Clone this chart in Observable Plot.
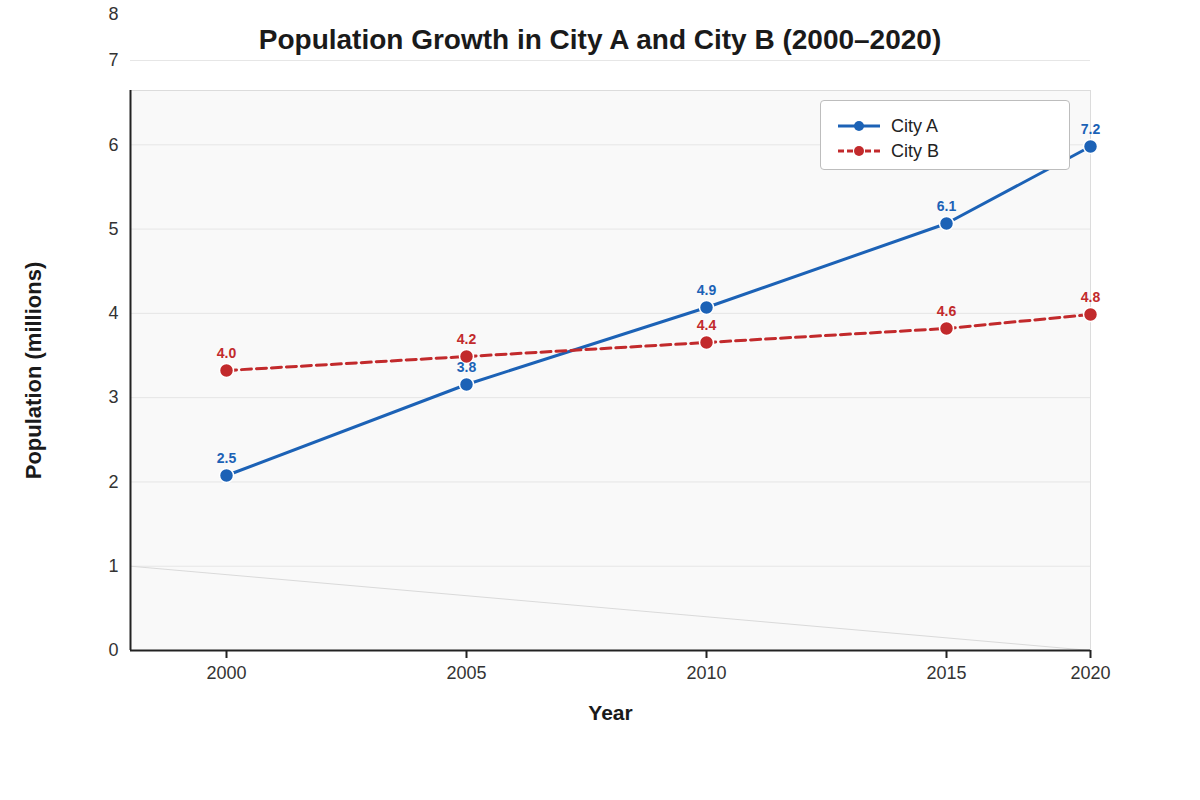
<!DOCTYPE html>
<html><head><meta charset="utf-8">
<script src="https://cdn.jsdelivr.net/npm/d3@7"></script>
<script src="https://cdn.jsdelivr.net/npm/@observablehq/plot@0.6"></script>
<style>
body{margin:0;background:#fff;font-family:"Liberation Sans",Arial,sans-serif;}
#wrap{position:relative;width:1200px;height:800px;overflow:hidden;}
#wrap svg{position:absolute;left:0;top:0;font-family:"Liberation Sans",Arial,sans-serif;}
#title{position:absolute;left:0;width:1200px;top:26px;text-align:center;font-size:28px;line-height:28px;font-weight:bold;color:#1a1a1a;}
#legend{position:absolute;left:820px;top:100px;width:248px;height:68px;border:1px solid #bdbdbd;border-radius:4px;background:#fff;}
.item{position:absolute;left:16px;height:20px;display:flex;align-items:center;font-size:18px;color:#222;}
.item svg{position:static !important;margin-right:10px;}
</style></head><body><div id="wrap"></div>
<script>
const years = [2000, 2005, 2010, 2015, 2020];
const cityA = [2.5, 3.8, 4.9, 6.1, 7.2];
const cityB = [4.0, 4.2, 4.4, 4.6, 4.8];
const seriesNames = ["City A", "City B"];
const seriesColors = ["#1c62b6", "#c22a2c"];
const seriesDash = [null, "10,5"];
const yTickLabels = [0, 1, 2, 3, 4, 5, 6, 7];
const yTopLabel = 8;
const xDomain = [1998, 2018];
const dataYDomain = [0, 8];
const axisYDomain = [0, 7];
const guideX = [1998, 2020];
const guideY = [1, 0];
const titleText = "Population Growth in City A and City B (2000–2020)";
const xLabel = "Year";
const yLabel = "Population (millions)";

const seriesValues = [cityA, cityB];
const rows = seriesNames.flatMap((name, s) =>
  years.map((year, i) => ({series: name, year, value: seriesValues[s][i]})));
const guide = guideX.map((x, i) => ({x, y: guideY[i]}));

const wrap = document.getElementById("wrap");
const base = {
  width: 1200, height: 800,
  marginLeft: 130, marginRight: 110, marginTop: 90, marginBottom: 150,
  style: {background: "transparent", overflow: "visible"}
};

// layer 1: plot background
const bg = Plot.plot({
  ...base,
  x: {domain: xDomain, clamp: true, axis: null},
  y: {domain: dataYDomain, axis: null},
  marks: [Plot.frame({fill: "#f9f9f9", stroke: "#dcdcdc"})]
});
wrap.appendChild(bg);

// layer 2: gridlines and y tick labels
const grid = Plot.plot({
  ...base,
  x: {domain: xDomain, clamp: true, axis: null},
  y: {domain: axisYDomain, range: [650, 60], axis: null},
  marks: [
    Plot.ruleY(yTickLabels.slice(1), {stroke: "#e6e6e6", strokeWidth: 1}),
    Plot.line(guide, {x: "x", y: "y", stroke: "#dadada", strokeWidth: 1}),
    Plot.text(yTickLabels, {x: xDomain[0], y: d => d, text: d => String(d), textAnchor: "end", dx: -12, fontSize: 18, fill: "#333"}),
    Plot.text([yTopLabel], {x: xDomain[0], y: d => d, text: d => String(d), textAnchor: "end", dx: -12, dy: 38, fontSize: 18, fill: "#333"})
  ]
});
wrap.appendChild(grid);

// layer 3: axes and data
const main = Plot.plot({
  ...base,
  x: {domain: xDomain, clamp: true},
  y: {domain: dataYDomain, axis: null},
  color: {domain: seriesNames, range: seriesColors},
  marks: [
    Plot.axisX({ticks: years, tickFormat: d => String(d), tickSize: 8, tickPadding: 8, fontSize: 18, stroke: "#222", strokeWidth: 2, color: "#333", label: null}),
    Plot.ruleY([dataYDomain[0]], {stroke: "#222", strokeWidth: 2}),
    Plot.ruleX([xDomain[0]], {stroke: "#222", strokeWidth: 2}),
    ...seriesNames.map((name, s) =>
      Plot.line(rows.filter(d => d.series === name), {x: "year", y: "value", stroke: seriesColors[s], strokeWidth: 3, strokeDasharray: seriesDash[s]})),
    Plot.dot(rows, {x: "year", y: "value", fill: "series", stroke: "#fff", strokeWidth: 1.5, r: 7}),
    Plot.text(rows, {x: "year", y: "value", text: d => d.value.toFixed(1), fill: "series", dy: -17, fontSize: 14, fontWeight: "bold"}),
    Plot.text([xLabel], {frameAnchor: "bottom", textAnchor: "middle", lineAnchor: "middle", dy: 63, fontSize: 21, fontWeight: "bold", fill: "#1a1a1a"}),
    Plot.text([yLabel], {frameAnchor: "left", textAnchor: "middle", lineAnchor: "middle", dx: -97, rotate: -90, fontSize: 22, fontWeight: "bold", fill: "#1a1a1a"})
  ]
});
wrap.appendChild(main);

const title = document.createElement("div");
title.id = "title";
title.textContent = titleText;
wrap.appendChild(title);

const legend = document.createElement("div");
legend.id = "legend";
seriesNames.forEach((name, s) => {
  const item = document.createElement("div");
  item.className = "item";
  item.style.top = (15 + s * 25) + "px";
  item.innerHTML = `<svg width="44" height="12"><line x1="1" x2="43" y1="6" y2="6" stroke="${seriesColors[s]}" stroke-width="3" ${seriesDash[s] ? `stroke-dasharray="6,3"` : ""}/><circle cx="22" cy="6" r="5" fill="${seriesColors[s]}"/></svg><span>${name}</span>`;
  legend.appendChild(item);
});
wrap.appendChild(legend);
</script>
</body></html>
